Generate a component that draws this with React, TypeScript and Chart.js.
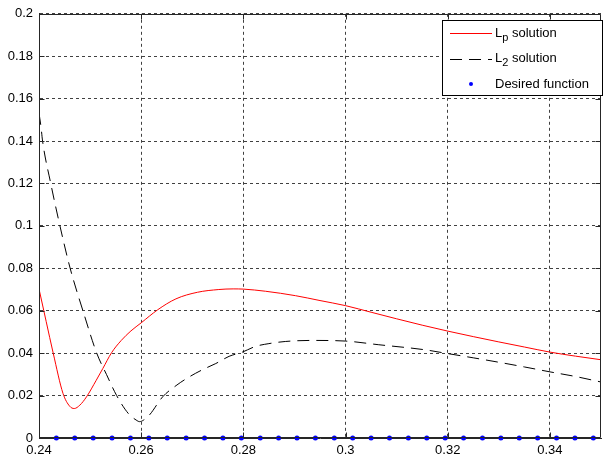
import React, { useEffect, useRef } from "react";
import { Chart, registerables } from "chart.js";

Chart.register(...registerables);

// ---- data ----
const lpX = [0.2400, 0.2414, 0.2428, 0.2447, 0.2460, 0.2469, 0.2480, 0.2493, 0.2512, 0.2525, 0.2542, 0.2561, 0.2580, 0.2600, 0.2632, 0.2668, 0.2710, 0.2752, 0.2780, 0.2800, 0.2843, 0.2902, 0.2950, 0.3000, 0.3050, 0.3100, 0.3150, 0.3200, 0.3250, 0.3300, 0.3350, 0.3400, 0.3450, 0.3500];
const lpY = [0.0703, 0.0550, 0.0398, 0.0210, 0.0150, 0.0139, 0.0155, 0.0194, 0.0272, 0.0328, 0.0402, 0.0460, 0.0505, 0.0543, 0.0604, 0.0656, 0.0687, 0.0700, 0.0703, 0.0702, 0.0692, 0.0671, 0.0648, 0.0624, 0.0593, 0.0562, 0.0532, 0.0504, 0.0478, 0.0453, 0.0429, 0.0405, 0.0386, 0.0369];

const l2X = [0.2400, 0.2404, 0.2407, 0.2423, 0.2441, 0.2461, 0.2486, 0.2513, 0.2532, 0.2552, 0.2575, 0.2590, 0.2597, 0.2605, 0.2616, 0.2642, 0.2670, 0.2694, 0.2720, 0.2746, 0.2772, 0.2798, 0.2824, 0.2850, 0.2882, 0.2934, 0.3000, 0.3064, 0.3155, 0.3200, 0.3250, 0.3298, 0.3350, 0.3402, 0.3450, 0.3500];
const l2Y = [0.1532, 0.1465, 0.1400, 0.1200, 0.1000, 0.0800, 0.0600, 0.0400, 0.0300, 0.0200, 0.0115, 0.0085, 0.0077, 0.0085, 0.0108, 0.0194, 0.0250, 0.0288, 0.0322, 0.0351, 0.0385, 0.0405, 0.0432, 0.0445, 0.0455, 0.0460, 0.0457, 0.0440, 0.0416, 0.0398, 0.0378, 0.0358, 0.0335, 0.0311, 0.0290, 0.0264];

const desiredX = [0.2434, 0.2470, 0.2506, 0.2543, 0.2579, 0.2615, 0.2651, 0.2688, 0.2724, 0.2760, 0.2796, 0.2833, 0.2869, 0.2905, 0.2941, 0.2978, 0.3014, 0.3050, 0.3086, 0.3123, 0.3159, 0.3195, 0.3231, 0.3268, 0.3304, 0.3340, 0.3376, 0.3413, 0.3449, 0.3485];
const desiredY = [0, 0, 0, 0, 0, 0, 0, 0, 0, 0, 0, 0, 0, 0, 0, 0, 0, 0, 0, 0, 0, 0, 0, 0, 0, 0, 0, 0, 0, 0];

const xTicks = [0.24, 0.26, 0.28, 0.3, 0.32, 0.34];
const yTicks = [0, 0.02, 0.04, 0.06, 0.08, 0.1, 0.12, 0.14, 0.16, 0.18, 0.2];

// legend: [main text, subscript, rest]
const legendItems = [
  { main: "L", sub: "p", rest: "solution" },
  { main: "L", sub: "2", rest: "solution" },
  { main: "Desired function", sub: "", rest: "" },
];

const FONT = '"Liberation Sans", Arial, sans-serif';
const fmt = (v: number) => parseFloat(Number(v).toFixed(4)).toString();

const framePlugin = {
  id: "matlabFrame",
  afterDraw(chart: any) {
    const ctx = chart.ctx as CanvasRenderingContext2D;
    const ca = chart.chartArea;
    const xs = chart.scales.x;
    const ys = chart.scales.y;
    const L = Math.round(ca.left) + 0.5;
    const R = Math.round(ca.right) - 0.5;
    const T = Math.round(ca.top) + 0.5;
    const B = Math.round(ca.bottom) - 0.5;
    ctx.save();
    ctx.strokeStyle = "#262626";
    ctx.lineWidth = 1;
    ctx.setLineDash([]);
    ctx.beginPath();
    ctx.rect(L, T, R - L, B - T);
    // tick marks inward
    const tl = 5;
    xTicks.forEach((v) => {
      const px = Math.round(xs.getPixelForValue(v)) + 0.5;
      ctx.moveTo(px, B);
      ctx.lineTo(px, B - tl);
      ctx.moveTo(px, T);
      ctx.lineTo(px, T + tl);
    });
    yTicks.forEach((v) => {
      const py = Math.round(ys.getPixelForValue(v)) + 0.5;
      ctx.moveTo(L, py);
      ctx.lineTo(L + tl, py);
      ctx.moveTo(R, py);
      ctx.lineTo(R - tl, py);
    });
    ctx.stroke();

    // legend box
    const lx = 442, ly = 20, lw = 160, lh = 75;
    ctx.fillStyle = "#ffffff";
    ctx.fillRect(lx, ly, lw, lh);
    ctx.strokeStyle = "#000";
    ctx.strokeRect(lx + 0.5, ly + 0.5, lw, lh);

    const baselines = [37, 62, 88];
    const sampleY = [33.5, 59.5, 84];
    const ds = chart.data.datasets;
    legendItems.forEach((item, i) => {
      const d = ds[i];
      if (i < 2) {
        ctx.beginPath();
        ctx.strokeStyle = d.borderColor;
        ctx.lineWidth = 1;
        ctx.setLineDash(d.borderDash || []);
        ctx.moveTo(450, sampleY[i]);
        ctx.lineTo(492, sampleY[i]);
        ctx.stroke();
        ctx.setLineDash([]);
      } else {
        ctx.beginPath();
        ctx.fillStyle = d.backgroundColor;
        ctx.arc(471, sampleY[i], 2, 0, Math.PI * 2);
        ctx.fill();
      }
      ctx.fillStyle = "#000";
      ctx.textBaseline = "alphabetic";
      ctx.textAlign = "left";
      let x = 495;
      ctx.font = `13px ${FONT}`;
      ctx.fillText(item.main, x, baselines[i]);
      x += ctx.measureText(item.main).width;
      if (item.sub) {
        ctx.font = `11px ${FONT}`;
        ctx.fillText(item.sub, x, baselines[i] + 4);
        x += ctx.measureText(item.sub).width;
      }
      if (item.rest) {
        ctx.font = `13px ${FONT}`;
        x += ctx.measureText(" ").width;
        ctx.fillText(item.rest, x, baselines[i]);
      }
    });
    ctx.restore();
  },
};

export default function App() {
  const ref = useRef<HTMLCanvasElement>(null);
  useEffect(() => {
    if (!ref.current) return;
    const gridColor = "rgba(0,0,0,0.75)";
    const chart = new Chart(ref.current, {
      type: "scatter",
      data: {
        datasets: [
          {
            label: "Lp solution",
            data: lpX.map((x, i) => ({ x, y: lpY[i] })),
            showLine: true,
            borderColor: "#ff0000",
            backgroundColor: "#ff0000",
            borderWidth: 1,
            pointRadius: 0,
            cubicInterpolationMode: "monotone",
          },
          {
            label: "L2 solution",
            data: l2X.map((x, i) => ({ x, y: l2Y[i] })),
            showLine: true,
            borderColor: "#000000",
            backgroundColor: "#000000",
            borderWidth: 1,
            borderDash: [12, 7],
            pointRadius: 0,
            cubicInterpolationMode: "monotone",
          },
          {
            label: "Desired function",
            data: desiredX.map((x, i) => ({ x, y: desiredY[i] })),
            showLine: false,
            pointRadius: 2.5,
            pointBorderWidth: 0,
            backgroundColor: "#0000ff",
            borderColor: "#0000ff",
            clip: false,
          },
        ] as any,
      },
      options: {
        animation: false,
        responsive: false,
        maintainAspectRatio: false,
        events: [],
        layout: { padding: { top: 12, right: 1, left: 0, bottom: 0 } },
        plugins: { legend: { display: false }, tooltip: { enabled: false } },
        scales: {
          x: {
            type: "linear",
            min: 0.24,
            max: 0.35,
            afterBuildTicks: (s: any) => {
              s.ticks = xTicks.map((v) => ({ value: v }));
            },
            afterFit: (s: any) => {
              s.height = 21;
            },
            grid: { color: gridColor, lineWidth: 1, drawTicks: false },
            border: { display: true, color: "#262626", width: 1, dash: [3, 3] },
            ticks: {
              color: "#000",
              font: { family: FONT, size: 13 },
              padding: 5,
              maxRotation: 0,
              autoSkip: false,
              callback: (v: any) => fmt(v),
            },
          },
          y: {
            type: "linear",
            min: 0,
            max: 0.2,
            afterBuildTicks: (s: any) => {
              s.ticks = yTicks.map((v) => ({ value: v }));
            },
            afterFit: (s: any) => {
              s.width = 39;
            },
            grid: { color: gridColor, lineWidth: 1, drawTicks: false },
            border: { display: true, color: "#262626", width: 1, dash: [3, 3] },
            ticks: {
              color: "#000",
              font: { family: FONT, size: 13 },
              padding: 6,
              autoSkip: false,
              callback: (v: any) => fmt(v),
            },
          },
        },
      } as any,
      plugins: [framePlugin],
    });
    return () => chart.destroy();
  }, []);
  return (
    <div style={{ position: "fixed", left: 0, top: 0, width: 605, height: 459, background: "#fff" }}>
      <canvas ref={ref} width={605} height={459} style={{ display: "block" }} />
    </div>
  );
}
